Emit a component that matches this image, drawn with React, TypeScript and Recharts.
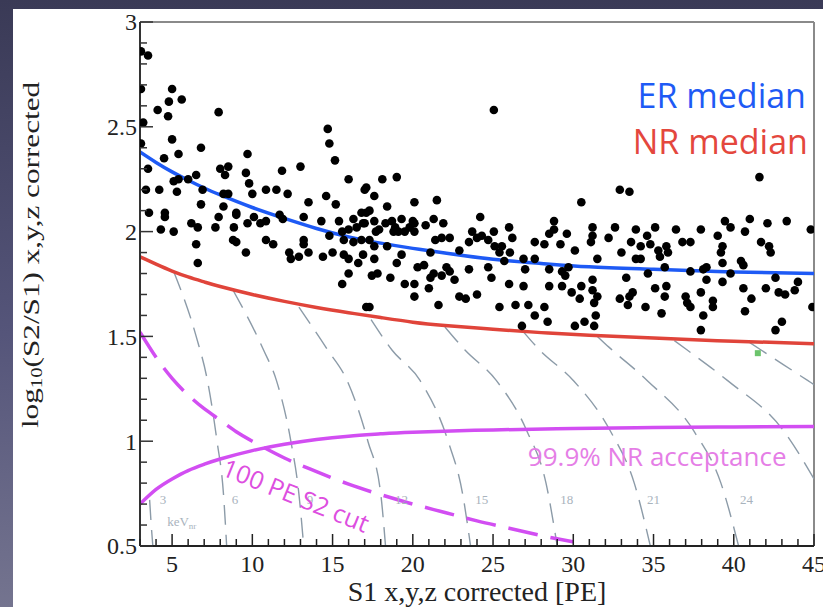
import {
  ComposedChart,
  Line,
  Scatter,
  XAxis,
  YAxis,
  ReferenceLine,
  ReferenceDot,
} from 'recharts';

// axis ticks (minor every 1 PE / 0.1 decade, labelled every 5 / 0.5)
const xTicks = [3, 4, 5, 6, 7, 8, 9, 10, 11, 12, 13, 14, 15, 16, 17, 18, 19, 20, 21, 22, 23, 24, 25, 26, 27, 28, 29, 30, 31, 32, 33, 34, 35, 36, 37, 38, 39, 40, 41, 42, 43, 44, 45];
const yTicks = [0.5, 0.6, 0.7, 0.8, 0.9, 1, 1.1, 1.2, 1.3, 1.4, 1.5, 1.6, 1.7, 1.8, 1.9, 2, 2.1, 2.2, 2.3, 2.4, 2.5, 2.6, 2.7, 2.8, 2.9, 3];

// medians
const erMedian = [[3, 2.38], [4, 2.33], [5, 2.285], [6, 2.245], [7, 2.208], [8, 2.175], [10, 2.115], [12, 2.063], [14, 2.015], [16, 1.975], [18, 1.945], [20, 1.92], [22, 1.898], [25, 1.868], [28, 1.848], [31, 1.832], [35, 1.82], [40, 1.807], [45, 1.8]];
const nrMedian = [[3, 1.88], [4, 1.845], [5, 1.812], [6, 1.784], [7, 1.76], [8, 1.738], [10, 1.7], [12, 1.667], [14, 1.638], [16, 1.613], [18, 1.59], [20, 1.568], [22, 1.552], [25, 1.534], [28, 1.518], [31, 1.506], [35, 1.492], [40, 1.477], [45, 1.465]];
const nrAcceptance = [[3, 0.7], [4, 0.77], [5, 0.82], [6, 0.86], [7, 0.89], [8, 0.915], [10, 0.955], [12, 0.985], [14, 1.008], [16, 1.024], [18, 1.035], [20, 1.043], [25, 1.054], [30, 1.06], [35, 1.065], [40, 1.068], [45, 1.07]];
const s2Cut = [[3, 1.52], [4, 1.4], [5, 1.3], [6, 1.22], [7, 1.155], [8, 1.1], [9, 1.045], [10, 1.0], [12, 0.92], [14, 0.855], [16, 0.795], [18, 0.745], [20, 0.7], [22, 0.66], [24, 0.62], [26, 0.585], [28, 0.55], [30, 0.52]];

// keVnr energy contours
const kev3 = [[3.6, 0.72], [3.7, 0.6], [3.8, 0.5]];
const kev6 = [[5.1, 1.81], [6.5, 1.5], [7.2, 1.29], [7.8, 1.0], [8.2, 0.75], [8.4, 0.5]];
const kev9 = [[8.8, 1.72], [10.7, 1.435], [11.5, 1.29], [12.4, 1.0], [12.9, 0.75], [13.2, 0.5]];
const kev12 = [[12.9, 1.64], [14.7, 1.435], [15.9, 1.29], [17.2, 1.0], [18.0, 0.75], [18.3, 0.5]];
const kev15 = [[17.4, 1.58], [18.7, 1.435], [20.45, 1.29], [22.2, 1.0], [23.1, 0.75], [23.6, 0.5]];
const kev18 = [[22.0, 1.545], [23.25, 1.435], [25.2, 1.29], [27.1, 1.05], [28.3, 0.8], [29.0, 0.5]];
const kev21 = [[26.8, 1.53], [27.9, 1.435], [30.0, 1.29], [32.3, 1.05], [33.8, 0.8], [34.8, 0.5]];
const kev24 = [[31.5, 1.5], [32.2, 1.45], [34.6, 1.29], [37.5, 1.05], [39.2, 0.8], [40.3, 0.5]];
const kev27 = [[36.3, 1.48], [37.1, 1.435], [39.6, 1.29], [43.1, 1.05], [45, 0.82]];
const kev30 = [[41.0, 1.47], [41.7, 1.435], [44.6, 1.29], [45, 1.27]];
const contours = [kev3, kev6, kev9, kev12, kev15, kev18, kev21, kev24, kev27, kev30];

const contourLabels = ['3', '6', '9', '12', '15', '18', '21', '24'];
const contourLabelX = [4.43, 8.92, 13.6, 19.3, 24.3, 29.6, 35.0, 40.8];

// WIMP-search events
const events = [
  [3.06, 2.86], [3.5, 2.84], [3.06, 2.68], [5.0, 2.68], [4.8, 2.62], [5.6, 2.63], [4.1, 2.58], [4.75, 2.55], [7.9, 2.57], [3.2, 2.52],
  [3.06, 2.42], [5.0, 2.44], [6.8, 2.4], [5.4, 2.37], [4.5, 2.35], [14.7, 2.49], [14.8, 2.42], [15.15, 2.34], [9.7, 2.37], [3.5, 2.3],
  [8.0, 2.3], [8.5, 2.31], [8.3, 2.27], [9.6, 2.28], [9.8, 2.23], [6.5, 2.27], [5.1, 2.24], [5.4, 2.25], [6.0, 2.25], [11.85, 2.29],
  [13.0, 2.31], [16.0, 2.25], [17.0, 2.2], [3.37, 2.2], [4.2, 2.2], [5.3, 2.19], [6.9, 2.2], [10.0, 2.18], [10.85, 2.2], [11.5, 2.2],
  [12.2, 2.18], [14.6, 2.17], [8.2, 2.18], [8.5, 2.18], [13.5, 2.14], [15.2, 2.13], [17.1, 2.09],
  [3.56, 2.09], [4.55, 2.09], [4.55, 2.07], [6.8, 2.13], [8.2, 2.12], [9.0, 2.09], [9.0, 2.08], [7.9, 2.07], [10.1, 2.07], [11.7, 2.08],
  [11.9, 2.06], [13.2, 2.07], [14.3, 2.05], [15.4, 2.05], [16.3, 2.06], [16.9, 2.04], [4.3, 2.01], [5.1, 2.0], [6.2, 2.04], [6.6, 2.02],
  [7.7, 2.02], [8.85, 2.02], [9.7, 2.04], [10.5, 2.04], [10.85, 2.05], [14.8, 1.98], [15.6, 2.0], [16.0, 2.01], [16.5, 2.02], [15.7, 1.96],
  [16.3, 1.95], [10.85, 1.96], [11.3, 1.94], [8.8, 1.96], [9.0, 1.95], [6.5, 1.94], [9.6, 1.9], [12.3, 1.9], [12.4, 1.87], [12.9, 1.88],
  [13.5, 1.9], [13.2, 1.96], [13.2, 1.94], [14.4, 1.88], [15.0, 1.9], [15.7, 1.89], [16.0, 1.87], [16.9, 1.89], [16.6, 1.85], [6.6, 1.85],
  [16.0, 1.8], [15.6, 1.75], [17.1, 1.64],
  [17.6, 2.17], [18.4, 2.12], [20.1, 2.14], [21.5, 2.15], [30.5, 2.14], [16.8, 2.09], [17.3, 2.1], [17.0, 2.04], [17.6, 2.05], [17.9, 2.01],
  [17.7, 2.0], [18.3, 2.04], [18.7, 2.05], [18.9, 2.02], [19.1, 2.0], [19.5, 2.0], [19.8, 2.02], [20.0, 2.05], [20.1, 2.0], [18.8, 2.0],
  [19.3, 2.06], [20.1, 2.04], [20.8, 2.03], [21.3, 2.06], [21.9, 2.04], [24.2, 2.07], [28.8, 2.05], [16.8, 1.96], [17.3, 1.96], [17.6, 1.93],
  [17.6, 1.87], [18.4, 1.93], [19.0, 1.85], [19.3, 1.89], [20.3, 1.83], [20.7, 1.84], [21.1, 1.9], [21.4, 1.96], [21.8, 1.97], [22.3, 1.97],
  [22.9, 1.91], [23.5, 1.95], [23.7, 2.0], [24.0, 1.97], [24.3, 1.98], [24.7, 1.96], [25.05, 2.0], [25.1, 1.93], [25.4, 1.9], [25.55, 1.93],
  [26.0, 2.02], [26.2, 1.97], [25.7, 1.86], [26.05, 1.9], [17.45, 1.79], [17.8, 1.8], [18.6, 1.78], [19.5, 1.75], [20.1, 1.75], [20.1, 1.69],
  [21.1, 1.78], [21.3, 1.8], [21.8, 1.79], [22.1, 1.83], [22.3, 1.81], [22.6, 1.77], [21.0, 1.73], [22.9, 1.69], [23.3, 1.68], [24.0, 1.7],
  [21.6, 1.65], [17.3, 1.64], [23.5, 1.82], [24.7, 1.83], [24.9, 1.78], [26.0, 1.75], [26.9, 1.74], [27.0, 1.82], [27.6, 1.87], [26.9, 1.87],
  [25.4, 1.64], [26.4, 1.65], [27.2, 1.65], [27.6, 1.6], [28.2, 1.64], [28.4, 1.57], [26.8, 1.55], [28.5, 1.74], [29.3, 1.74], [29.5, 1.79],
  [29.9, 1.71], [30.4, 1.68], [30.5, 1.74], [31.2, 1.77], [31.2, 1.72], [30.1, 1.55], [30.7, 1.57], [27.6, 1.95], [28.2, 1.94], [28.5, 1.99],
  [28.8, 2.01], [29.2, 1.94], [29.6, 1.99], [30.1, 1.91], [31.2, 1.98], [31.2, 2.02], [28.5, 1.82], [29.3, 1.81], [29.7, 1.83],
  [25.05, 2.58], [17.1, 2.21], [18.1, 2.25], [19.0, 2.26], [32.9, 2.2], [33.5, 2.19], [41.6, 2.26],
  [32.6, 2.02], [33.9, 2.01], [35.1, 2.02], [36.4, 2.01], [37.95, 2.01], [39.0, 1.98], [39.45, 2.05], [39.8, 2.02], [41.0, 2.06], [42.1, 2.04],
  [43.3, 2.05], [44.8, 2.01], [32.2, 1.97], [34.6, 1.98], [36.8, 1.95], [37.3, 1.95], [33.6, 1.95], [34.2, 1.93], [34.8, 1.94], [39.3, 1.93],
  [40.7, 2.0], [41.7, 1.95], [42.2, 1.93], [42.3, 1.9], [31.1, 1.95], [33.0, 1.9], [33.9, 1.87], [34.2, 1.87], [35.3, 1.91], [35.4, 1.88],
  [35.8, 1.93], [35.9, 1.9], [39.2, 1.9], [39.3, 1.85], [40.45, 1.86], [40.6, 1.84], [38.3, 1.83], [38.1, 1.82], [35.7, 1.83], [31.5, 1.87],
  [33.3, 1.78], [34.65, 1.8], [37.3, 1.81], [38.3, 1.77], [39.3, 1.76], [39.8, 1.8], [42.6, 1.78], [44.0, 1.76], [31.5, 1.69], [31.3, 1.66],
  [31.4, 1.6], [31.3, 1.55], [32.9, 1.68], [33.5, 1.69], [33.7, 1.71], [33.4, 1.65], [34.5, 1.64], [35.1, 1.73], [35.8, 1.74], [35.7, 1.69],
  [35.5, 1.61], [37.0, 1.69], [37.1, 1.66], [37.3, 1.64], [37.95, 1.71], [38.1, 1.6], [38.7, 1.67], [38.7, 1.64], [37.95, 1.53], [40.6, 1.73],
  [41.1, 1.68], [42.0, 1.73], [42.8, 1.71], [43.2, 1.7], [43.8, 1.72], [40.7, 1.62], [43.0, 1.57], [42.6, 1.53], [44.9, 1.64],
];
const calibrationEvent = [[41.5, 1.42]];

const toXY = (pts: number[][]) => pts.map(([x, y]) => ({ x, y }));

const SERIF = '"Liberation Serif", "Times New Roman", serif';
const SANS = '"Open Sans", sans-serif';
const MAGENTA = '#d24ef2';

const XTick = ({ x, y, payload }: any) => {
  const v = payload.value;
  const major = v % 5 === 0;
  return (
    <g>
      <line x1={x} x2={x} y1={y} y2={y - (major ? 12 : 7)} stroke="#222" strokeWidth={1.5} />
      {major && (
        <text x={x} y={y + 26} textAnchor="middle" fontFamily={SERIF} fontSize={24} fill="#222">
          {v}
        </text>
      )}
    </g>
  );
};

const YTick = ({ x, y, payload }: any) => {
  const v = payload.value;
  const major = Math.abs(v * 2 - Math.round(v * 2)) < 1e-6;
  return (
    <g>
      <line x1={x} x2={x + (major ? 13 : 7)} y1={y} y2={y} stroke="#333" strokeWidth={1.5} />
      {major && (
        <text x={x - 3} y={y} dy="0.35em" textAnchor="end" fontFamily={SERIF} fontSize={24} fill="#222">
          {String(Math.round(v * 10) / 10)}
        </text>
      )}
    </g>
  );
};

const note = (text: string, color: string, size: number, anchor: string, rotate = 0, family = SANS) =>
  (p: any) => (
    <text
      x={p.cx}
      y={p.cy}
      fill={color}
      fontSize={size}
      fontFamily={family}
      textAnchor={anchor}
      transform={rotate ? `rotate(${rotate}, ${p.cx}, ${p.cy})` : undefined}
    >
      {text}
    </text>
  );

export default function App() {
  return (
    <div
      style={{
        position: 'fixed',
        left: 0,
        top: 0,
        width: 823,
        height: 607,
        background: 'linear-gradient(to bottom, #3a3a56 0%, #55557a 55%, #74748f 100%)',
        overflow: 'hidden',
      }}
    >
      <div style={{ position: 'absolute', left: 13, top: 9, right: 0, bottom: 0, background: '#fff' }} />
      <div style={{ position: 'absolute', left: 0, top: 0 }}>
        <ComposedChart width={823} height={607} margin={{ top: 22, right: 9, bottom: 0, left: 40 }}>
          <XAxis
            type="number"
            dataKey="x"
            domain={[3, 45]}
            ticks={xTicks}
            interval={0}
            tickSize={0}
            tickMargin={0}
            tick={<XTick />}
            height={61}
            allowDataOverflow
            axisLine={{ stroke: '#222', strokeWidth: 2 }}
            label={{
              content: ({ viewBox }: any) => (
                <text
                  x={viewBox.x + viewBox.width / 2}
                  y={viewBox.y + 55}
                  textAnchor="middle"
                  fontFamily={SERIF}
                  fontSize={28}
                  fill="#222"
                >
                  S1 x,y,z corrected [PE]
                </text>
              ),
            }}
          />
          <YAxis
            type="number"
            dataKey="y"
            domain={[0.5, 3]}
            ticks={yTicks}
            interval={0}
            tickSize={0}
            tickMargin={0}
            tick={<YTick />}
            width={100}
            allowDataOverflow
            axisLine={{ stroke: '#333', strokeWidth: 2 }}
            label={{
              content: ({ viewBox }: any) => {
                const cx = viewBox.x - 10;
                const cy = 255;
                return (
                  <text
                    transform={`translate(${cx}, ${cy}) rotate(-90) scale(1.3, 1)`}
                    textAnchor="middle"
                    dominantBaseline="central"
                    fontFamily={SERIF}
                    fontSize={24}
                    fill="#222"
                  >
                    log
                    <tspan fontSize={16} dy={6}>10</tspan>
                    <tspan dy={-6}>(S2/S1) x,y,z corrected</tspan>
                  </text>
                );
              },
            }}
          />

          <ReferenceLine y={3} stroke="#8a8a8a" strokeWidth={2} />
          <ReferenceLine x={45} stroke="#8a8a8a" strokeWidth={2} />

          {contours.map((c, i) => (
            <Line
              key={`kev-${i}`}
              data={toXY(c)}
              dataKey="y"
              type="monotone"
              stroke="#8c9ba8"
              strokeWidth={1.4}
              strokeDasharray="20 10"
              dot={false}
              isAnimationActive={false}
            />
          ))}

          <Line data={toXY(s2Cut)} dataKey="y" type="natural" stroke={MAGENTA} strokeWidth={3.5} strokeDasharray="30 13" dot={false} isAnimationActive={false} />
          <Line data={toXY(nrAcceptance)} dataKey="y" type="natural" stroke={MAGENTA} strokeWidth={3.5} dot={false} isAnimationActive={false} />
          <Line data={toXY(nrMedian)} dataKey="y" type="natural" stroke="#e0443a" strokeWidth={3.5} dot={false} isAnimationActive={false} />
          <Line data={toXY(erMedian)} dataKey="y" type="natural" stroke="#1e5af5" strokeWidth={3.5} dot={false} isAnimationActive={false} />

          <Scatter
            data={toXY(events)}
            fill="#000"
            isAnimationActive={false}
            shape={(p: any) => <circle cx={p.cx} cy={p.cy} r={4.3} fill="#000" />}
          />
          <Scatter
            data={toXY(calibrationEvent)}
            fill="#5cb85c"
            isAnimationActive={false}
            shape={(p: any) => <rect x={p.cx - 3} y={p.cy - 3} width={6} height={6} fill="#6cc46c" />}
          />

          {contourLabels.map((t, i) => (
            <ReferenceDot
              key={`lab-${t}`}
              x={contourLabelX[i]}
              y={0.72}
              r={0}
              ifOverflow="visible"
              shape={(p: any) => (
                <text x={p.cx} y={p.cy} dy="0.35em" textAnchor="middle" fontFamily={SERIF} fontSize={13} fill="#a9b3bd">
                  {t}
                </text>
              )}
            />
          ))}
          <ReferenceDot
            x={5.6}
            y={0.615}
            r={0}
            ifOverflow="visible"
            shape={(p: any) => (
              <text x={p.cx} y={p.cy} dy="0.35em" textAnchor="middle" fontFamily={SERIF} fontSize={13} fill="#a9b3bd">
                keV<tspan fontSize={9} dy={3}>nr</tspan>
              </text>
            )}
          />

          <ReferenceDot x={44.5} y={2.59} r={0} ifOverflow="visible" shape={note('ER median', '#1e5af5', 34, 'end')} />
          <ReferenceDot x={44.62} y={2.37} r={0} ifOverflow="visible" shape={note('NR median', '#e4473d', 34, 'end')} />
          <ReferenceDot x={27.17} y={0.882} r={0} ifOverflow="visible" shape={note('99.9% NR acceptance', '#e57ee6', 26, 'start')} />
          <ReferenceDot x={8.0} y={0.84} r={0} ifOverflow="visible" shape={note('100 PE S2 cut', '#dd4ee0', 25, 'start', 22)} />
        </ComposedChart>
      </div>
    </div>
  );
}
